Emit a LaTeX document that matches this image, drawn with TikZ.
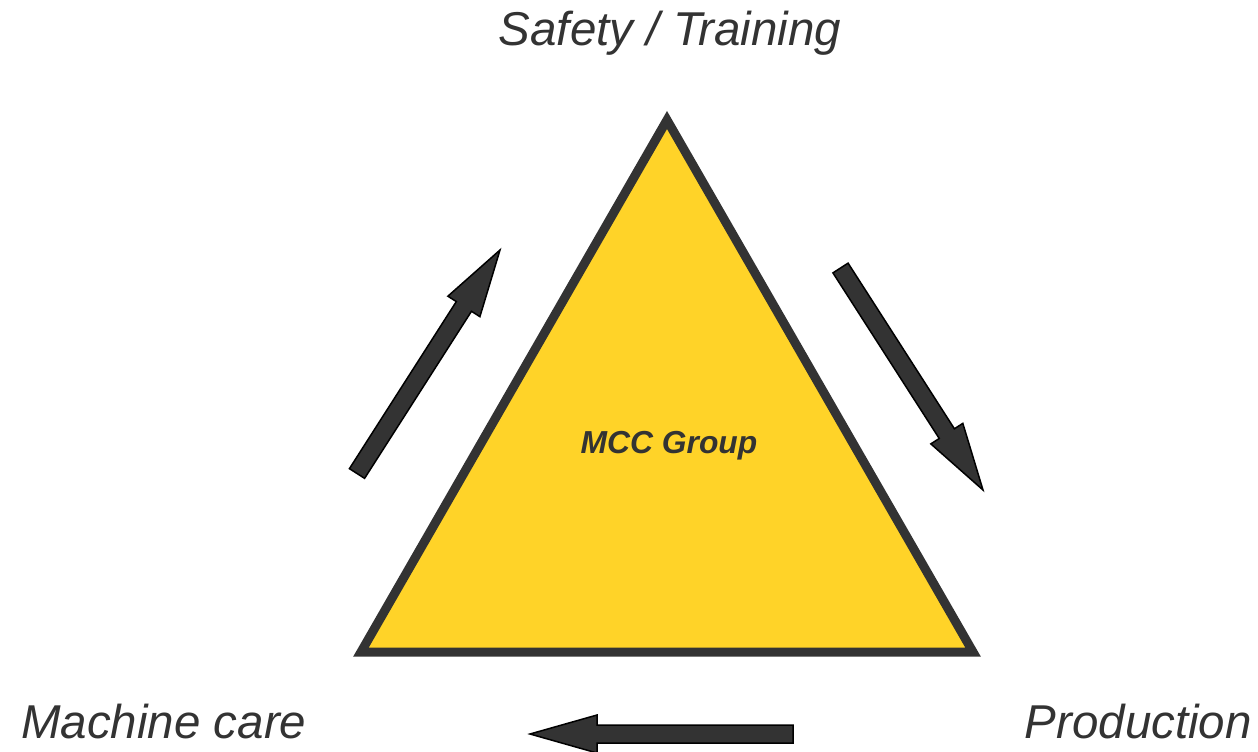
\documentclass[tikz,border=0pt]{standalone}
\usepackage{fontspec}
\setmainfont{Liberation Sans}
\usetikzlibrary{calc}
\definecolor{darkg}{HTML}{333333}
\definecolor{fillyel}{RGB}{255,211,40}
\tikzset{
  fatarr/.style={draw=black, line width=1.5pt, fill=darkg, line join=miter},
  tri/.style={draw=darkg, line width=9pt, fill=fillyel, line join=miter},
  biglabel/.style={inner sep=0pt, text=darkg, font=\fontsize{47.5}{57}\selectfont\itshape},
  midlabel/.style={inner sep=0pt, text=darkg, font=\fontsize{31.8}{38}\selectfont\bfseries\itshape}
}
\newcommand\fatarrow[2]{%
  \coordinate (#1h) at ($(#2)!67pt!(#1)$);
  \draw[fatarr] ($(#1)!9pt!90:(#2)$) -- ($(#1h)!9pt!90:(#2)$) -- ($(#1h)!19pt!90:(#2)$)
    -- (#2) -- ($(#1h)!19pt!-90:(#2)$) -- ($(#1h)!9pt!-90:(#2)$) -- ($(#1)!9pt!-90:(#2)$) -- cycle;
}
\begin{document}
\begin{tikzpicture}[x=1pt,y=-1pt]
\useasboundingbox (0,0) rectangle (1258,752);
% triangle
\coordinate (apex) at (667,120);
\coordinate (bl) at (361,652);
\coordinate (br) at (973,652);
\draw[tri] (apex) -- (br) -- (bl) -- cycle;
\node[midlabel, anchor=base] (mcc) at (669,453) {MCC Group};
% labels
\node[biglabel, anchor=base] (safety) at (670,46) {Safety / Training};
\node[biglabel, anchor=base west] (machine) at (21,738) {Machine care};
\node[biglabel, anchor=base east] (prod) at (1252,738) {Production};
% arrows
\coordinate (rt) at (840.5,268);
\coordinate (rp) at (983,490);
\coordinate (bt) at (793,734);
\coordinate (bp) at (530,734);
\coordinate (lt) at (357,473.5);
\coordinate (lp) at (500,250);
\fatarrow{rt}{rp}
\fatarrow{bt}{bp}
\fatarrow{lt}{lp}
\end{tikzpicture}
\end{document}
